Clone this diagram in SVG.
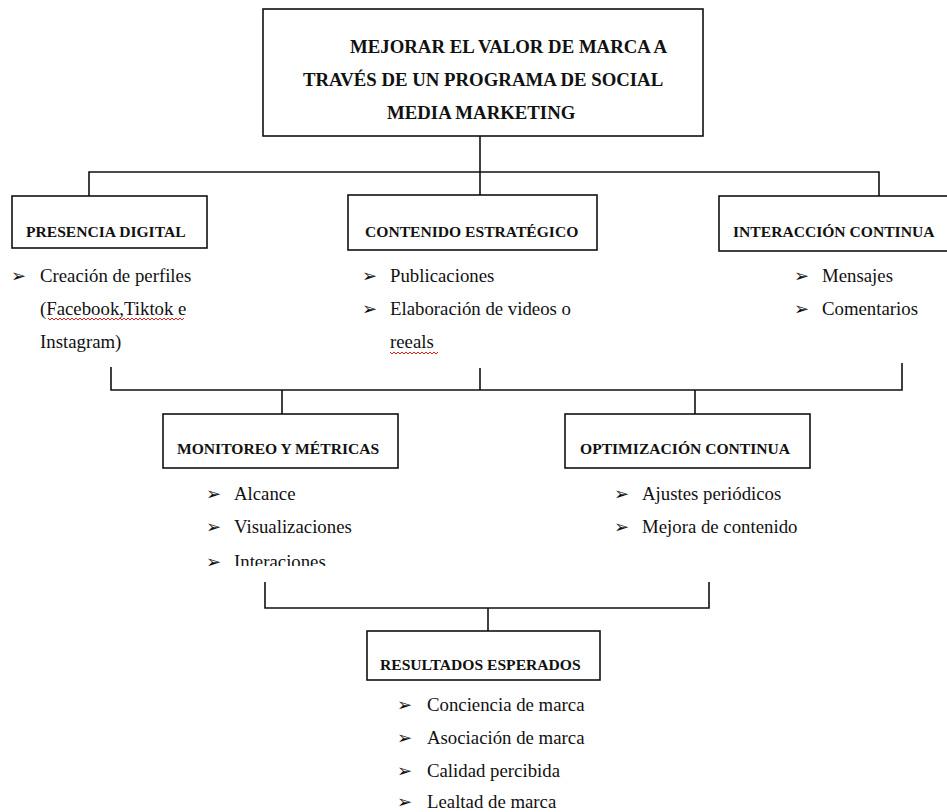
<svg xmlns="http://www.w3.org/2000/svg" width="947" height="812" viewBox="0 0 947 812">
<defs>
<style>
.box{fill:#fff;stroke:#111;stroke-width:1.6}
.con{fill:none;stroke:#111;stroke-width:1.6}
.title{font-family:"Liberation Serif","Times New Roman",serif;font-weight:bold;font-size:18.8px;fill:#111}
.head{font-family:"Liberation Serif","Times New Roman",serif;font-weight:bold;font-size:15.6px;fill:#111}
.body{font-family:"Liberation Serif","Times New Roman",serif;font-size:18.8px;fill:#111}
.bul{font-family:"DejaVu Sans",sans-serif;font-size:18px;fill:#111}
.sq{fill:none;stroke:#e02020;stroke-width:1}
</style>
<clipPath id="clipInter"><rect x="0" y="0" width="947" height="566"/></clipPath>
</defs>
<rect width="947" height="812" fill="#fff"/>

<g id="connectors">
<path class="con" d="M480 136V195"/>
<path class="con" d="M89 196V172H879V196"/>
<path class="con" d="M111 367V390H902V363"/>
<path class="con" d="M480 368V390"/>
<path class="con" d="M282 390V414"/>
<path class="con" d="M695 390V414"/>
<path class="con" d="M265 582V608H709V582"/>
<path class="con" d="M488 608V631"/>
</g>

<g id="node-main">
<rect class="box" x="263" y="9" width="440" height="127"/>
<text class="title" x="350" y="53">MEJORAR EL VALOR DE MARCA A</text>
<text class="title" x="303" y="86">TRAVÉS DE UN PROGRAMA DE SOCIAL</text>
<text class="title" x="387" y="119">MEDIA MARKETING</text>
</g>

<g id="node-presencia">
<rect class="box" x="12" y="196" width="195" height="52"/>
<text class="head" x="26" y="237">PRESENCIA DIGITAL</text>
<text class="bul" x="11" y="282">➢</text>
<text class="body" x="40" y="282">Creación de perfiles</text>
<text class="body" x="40" y="315">(Facebook,Tiktok e</text>
<path class="sq" d="M48 318l2 2 2-2 2 2 2-2 2 2 2-2 2 2 2-2 2 2 2-2 2 2 2-2 2 2 2-2 2 2 2-2 2 2 2-2 2 2 2-2 2 2 2-2 2 2 2-2 2 2 2-2 2 2 2-2 2 2 2-2 2 2 2-2 2 2 2-2 2 2 2-2 2 2 2-2 2 2 2-2 2 2 2-2 2 2 2-2 2 2 2-2 2 2 2-2 2 2 2-2 2 2 2-2 2 2 2-2 2 2 2-2 2 2 2-2 2 2 2-2 2 2 2-2 2 2 2-2 2 2 2-2 2 2 2-2"/>
<text class="body" x="40" y="348">Instagram)</text>
</g>

<g id="node-contenido">
<rect class="box" x="348" y="195" width="249" height="55"/>
<text class="head" x="365" y="237">CONTENIDO ESTRATÉGICO</text>
<text class="bul" x="362" y="282">➢</text>
<text class="body" x="390" y="282">Publicaciones</text>
<text class="bul" x="362" y="315">➢</text>
<text class="body" x="390" y="315">Elaboración de videos o</text>
<text class="body" x="390" y="348">reeals</text>
<path class="sq" d="M390 352l2 2 2-2 2 2 2-2 2 2 2-2 2 2 2-2 2 2 2-2 2 2 2-2 2 2 2-2 2 2 2-2 2 2 2-2 2 2 2-2 2 2 2-2 2 2 2-2"/>
</g>

<g id="node-interaccion">
<rect class="box" x="719" y="196" width="240" height="55"/>
<text class="head" x="733" y="237">INTERACCIÓN CONTINUA</text>
<text class="bul" x="794" y="282">➢</text>
<text class="body" x="822" y="282">Mensajes</text>
<text class="bul" x="794" y="315">➢</text>
<text class="body" x="822" y="315">Comentarios</text>
</g>

<g id="node-monitoreo">
<rect class="box" x="163" y="414" width="235" height="54"/>
<text class="head" x="177" y="454">MONITOREO Y MÉTRICAS</text>
<text class="bul" x="206" y="500">➢</text>
<text class="body" x="234" y="500">Alcance</text>
<text class="bul" x="206" y="533">➢</text>
<text class="body" x="234" y="533">Visualizaciones</text>
<g clip-path="url(#clipInter)">
<text class="bul" x="206" y="568">➢</text>
<text class="body" x="234" y="568">Interaciones</text>
</g>
</g>

<g id="node-optimizacion">
<rect class="box" x="565" y="414" width="245" height="54"/>
<text class="head" x="580" y="454">OPTIMIZACIÓN CONTINUA</text>
<text class="bul" x="614" y="500">➢</text>
<text class="body" x="642" y="500">Ajustes periódicos</text>
<text class="bul" x="614" y="533">➢</text>
<text class="body" x="642" y="533">Mejora de contenido</text>
</g>

<g id="node-resultados">
<rect class="box" x="367" y="631" width="233" height="49"/>
<text class="head" x="380" y="670">RESULTADOS ESPERADOS</text>
<text class="bul" x="397" y="711">➢</text>
<text class="body" x="427" y="711">Conciencia de marca</text>
<text class="bul" x="397" y="744">➢</text>
<text class="body" x="427" y="744">Asociación de marca</text>
<text class="bul" x="397" y="777">➢</text>
<text class="body" x="427" y="777">Calidad percibida</text>
<text class="bul" x="397" y="808">➢</text>
<text class="body" x="427" y="808">Lealtad de marca</text>
</g>
</svg>
